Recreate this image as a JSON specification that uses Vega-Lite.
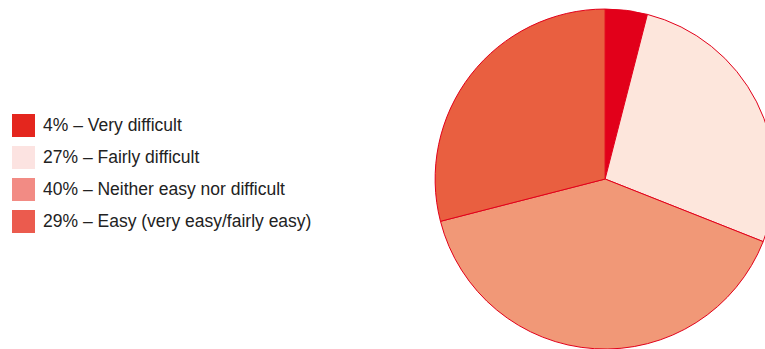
{
  "$schema": "https://vega.github.io/schema/vega-lite/v6.json",
  "width": 765,
  "height": 349,
  "autosize": {"type": "fit", "contains": "padding"},
  "padding": 0,
  "background": "white",
  "config": {"view": {"stroke": null}},
  "data": {
    "values": [
      {"rank": 1, "category": "Very difficult", "pct": 4, "label": "4% – Very difficult"},
      {"rank": 2, "category": "Fairly difficult", "pct": 27, "label": "27% – Fairly difficult"},
      {"rank": 3, "category": "Neither easy nor difficult", "pct": 40, "label": "40% – Neither easy nor difficult"},
      {"rank": 4, "category": "Easy (very easy/fairly easy)", "pct": 29, "label": "29% – Easy (very easy/fairly easy)"}
    ]
  },
  "layer": [
    {
      "mark": {
        "type": "arc",
        "outerRadius": 170,
        "x": {"expr": "width * 0.791"},
        "y": {"expr": "height * 0.513"},
        "stroke": "#e2001a",
        "strokeWidth": 1,
        "clip": true
      },
      "encoding": {
        "theta": {"field": "pct", "type": "quantitative", "stack": true},
        "order": {"field": "rank", "type": "quantitative"},
        "color": {
          "field": "category",
          "type": "nominal",
          "scale": {
            "domain": ["Very difficult", "Fairly difficult", "Neither easy nor difficult", "Easy (very easy/fairly easy)"],
            "range": ["#e2001a", "#fde6dc", "#f19877", "#e95f40"]
          },
          "legend": null
        }
      }
    },
    {
      "mark": {
        "type": "arc",
        "outerRadius": 0,
        "x": {"expr": "width * 0.791"},
        "y": {"expr": "height * 0.513"},
        "strokeWidth": 0
      },
      "encoding": {
        "theta": {"field": "pct", "type": "quantitative", "stack": true},
        "order": {"field": "rank", "type": "quantitative"},
        "color": {
          "field": "label",
          "type": "nominal",
          "sort": ["4% – Very difficult", "27% – Fairly difficult", "40% – Neither easy nor difficult", "29% – Easy (very easy/fairly easy)"],
          "scale": {
            "domain": ["4% – Very difficult", "27% – Fairly difficult", "40% – Neither easy nor difficult", "29% – Easy (very easy/fairly easy)"],
            "range": ["#e4261e", "#fce3e1", "#f28b84", "#eb5b4e"]
          },
          "legend": {
            "title": null,
            "orient": "none",
            "legendX": 12,
            "legendY": 114,
            "padding": 0,
            "symbolType": "square",
            "symbolSize": 529,
            "symbolStrokeWidth": 0,
            "symbolOpacity": 1,
            "labelFontSize": 17.5,
            "labelFont": "Liberation Sans",
            "labelColor": "#222222",
            "labelOffset": 8,
            "rowPadding": 9,
            "labelLimit": 400
          }
        }
      }
    }
  ],
  "resolve": {"scale": {"color": "independent"}}
}
